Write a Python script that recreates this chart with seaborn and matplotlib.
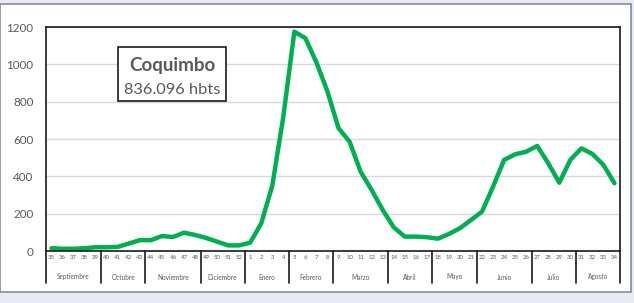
import matplotlib
matplotlib.use("Agg")
import matplotlib.pyplot as plt
import matplotlib.patches as mpatches
import matplotlib.transforms as mtransforms
import seaborn as sns
import pandas as pd
import numpy as np

weeks = [35, 36, 37, 38, 39, 40, 41, 42, 43, 44, 45, 46, 47, 48, 49, 50, 51, 52,
         1, 2, 3, 4, 5, 6, 7, 8, 9, 10, 11, 12, 13, 14, 15, 16, 17, 18, 19, 20, 21,
         22, 23, 24, 25, 26, 27, 28, 29, 30, 31, 32, 33, 34]
cases = [15, 12, 12, 15, 20, 20, 22, 40, 58, 58, 80, 75, 98, 86, 70, 50, 30, 30,
         45, 148, 350, 720, 1175, 1140, 1010, 854, 658, 586, 425, 327, 220, 127, 77, 77, 74,
         66, 91, 122, 166, 211, 345, 488, 518, 532, 563, 470, 366, 488, 550, 520, 461, 363]
months = ["Septiembre", "Octubre", "Noviembre", "Diciembre", "Enero", "Febrero",
          "Marzo", "Abril", "Mayo", "Junio", "Julio", "Agosto"]
month_counts = [5, 4, 5, 4, 4, 4, 5, 4, 4, 5, 4, 4]
yticks = [0, 200, 400, 600, 800, 1000, 1200]
title_text = "Coquimbo"
subtitle_text = "836.096 hbts"

sns.set_theme(style="white")
plt.rcParams['font.family'] = ['Lato', 'DejaVu Sans']

W, H = 634, 303
fig = plt.figure(figsize=(W / 100, H / 100), dpi=100)
fig.patch.set_facecolor("#e6ebf5")

# white panel with gray border
panel = mpatches.Rectangle((0 / W, 1 - 292 / H), 631 / W, (292 - 4) / H,
                           transform=fig.transFigure, facecolor="white",
                           edgecolor="#8c8c8c", linewidth=1.2, zorder=-10)
fig.patches.append(panel)

ax = fig.add_axes([46 / W, 1 - 251 / H, (620 - 46) / W, (251 - 27) / H])
ax.set_zorder(5)
ax.set_facecolor("white")

df = pd.DataFrame({"pos": np.arange(len(weeks)), "cases": cases})
sns.lineplot(data=df, x="pos", y="cases", ax=ax, color="#00b050",
             linewidth=3.2, solid_joinstyle="round", solid_capstyle="round")

ax.set_xlim(-0.5, len(weeks) - 0.5)
ax.set_ylim(0, 1200)
ax.set_yticks(yticks)
ax.set_yticklabels([str(v) for v in yticks], fontsize=8.4, color="#595959")
ax.tick_params(axis="y", length=0, pad=9)
ax.yaxis.grid(True, color="#d9d9d9", linewidth=1.0)
ax.set_axisbelow(True)
ax.set_xlabel("")
ax.set_ylabel("")

ax.set_xticks(np.arange(len(weeks)))
ax.set_xticklabels([str(w) for w in weeks], fontsize=4.3, color="#595959")
ax.tick_params(axis="x", length=0, pad=3)

for s in ax.spines.values():
    s.set_color("#1a1a1a")
    s.set_linewidth(1.2)

# month labels and separators
trans = mtransforms.blended_transform_factory(ax.transData, ax.transAxes)
edges = np.concatenate([[0], np.cumsum(month_counts)]) - 0.5
sep_bottom = -(283 - 251) / (251 - 27)
for e in edges:
    ax.plot([e, e], [0, sep_bottom], transform=trans, color="#1a1a1a",
            linewidth=1.2, clip_on=False)
month_y = -(279.5 - 251) / (251 - 27)
for m, a, b in zip(months, edges[:-1], edges[1:]):
    ax.text((a + b) / 2, month_y, m, transform=trans, ha="center", va="baseline",
            fontsize=4.7, color="#595959")

# annotation box
box = mpatches.Rectangle((0.1254, 0.6696), 0.188, 0.241, transform=ax.transAxes,
                         facecolor="white", edgecolor="#1a1a1a", linewidth=1.2, zorder=5)
ax.add_patch(box)
ax.text(0.2195, 1 - (71 - 27) / 224, title_text, transform=ax.transAxes, ha="center",
        va="baseline", fontsize=13.5, fontweight="bold", color="#595959", zorder=6)
ax.text(0.2195, 1 - (94 - 27) / 224, subtitle_text, transform=ax.transAxes, ha="center",
        va="baseline", fontsize=11.8, color="#595959", zorder=6)

fig.savefig("out.png", dpi=100, facecolor=fig.get_facecolor())
